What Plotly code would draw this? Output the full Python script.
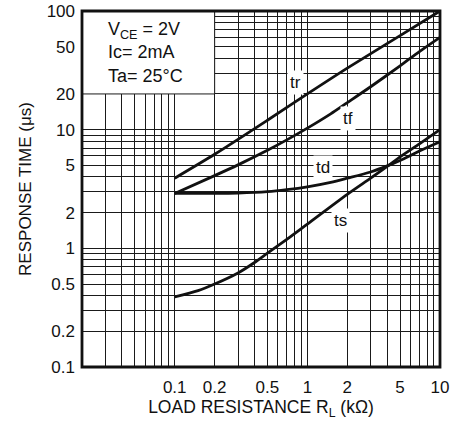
import numpy as np
import plotly.graph_objects as go

# ---- data ----
rl_tr = [0.1, 0.2, 0.5, 1, 2, 5, 10]
tr = [3.9, 6.2, 12, 20, 33, 62, 100]

rl_tf = [0.1, 0.2, 0.3, 0.5, 0.7, 1, 1.5, 2, 3, 5, 7, 10]
tf = [2.9, 4.1, 5.05, 6.7, 8.2, 10.3, 13.6, 16.9, 23, 34.5, 45.5, 60]

rl_td = [0.1, 0.2, 0.3, 0.5, 0.7, 1, 1.5, 2, 3, 4, 5, 7, 10]
td = [2.9, 2.9, 2.92, 3.0, 3.12, 3.3, 3.6, 3.9, 4.4, 4.95, 5.5, 6.6, 7.9]

rl_ts = [0.1, 0.15, 0.2, 0.3, 0.4, 0.5, 0.7, 1, 2, 3, 4, 5, 7, 10]
ts = [0.39, 0.44, 0.5, 0.62, 0.76, 0.91, 1.19, 1.6, 2.85, 3.9, 4.9, 5.9, 7.6, 10]

series_names = ["tr", "tf", "td", "ts"]
label_x = [0.81, 2.03, 1.32, 1.77]
label_y = [25.2, 12.4, 4.76, 1.73]

x_grid = [0.03, 0.04, 0.05, 0.06, 0.07, 0.08, 0.09,
          0.1, 0.2, 0.3, 0.4, 0.5, 0.6, 0.7, 0.8, 0.9,
          1, 2, 3, 4, 5, 6, 7, 8, 9, 10]
x_labels = {0.1: "0.1", 0.2: "0.2", 0.5: "0.5", 1: "1", 2: "2", 5: "5", 10: "10"}

y_grid = [0.1, 0.2, 0.3, 0.4, 0.5, 0.6, 0.7, 0.8, 0.9,
          1, 2, 3, 4, 5, 6, 7, 8, 9,
          10, 20, 30, 40, 50, 60, 70, 80, 90, 100]
y_labels = {0.1: "0.1", 0.2: "0.2", 0.5: "0.5", 1: "1", 2: "2", 5: "5",
            10: "10", 20: "20", 50: "50", 100: "100"}

conditions = "V<sub>CE</sub> = 2V<br>Ic= 2mA<br>Ta= 25°C"

FONT = "Liberation Sans, Arial, sans-serif"
INK = "#111"
GRID = "#1a1a1a"

fig = go.Figure()
for xs, ys, nm in [(rl_tr, tr, "tr"), (rl_tf, tf, "tf"), (rl_td, td, "td"), (rl_ts, ts, "ts")]:
    fig.add_trace(go.Scatter(x=xs, y=ys, mode="lines", name=nm,
                             line=dict(color=INK, width=2.8, shape="spline", smoothing=0.8),
                             showlegend=False, hoverinfo="skip"))

for nm, lx, ly in zip(series_names, label_x, label_y):
    fig.add_annotation(x=np.log10(lx), y=np.log10(ly), xref="x", yref="y",
                       text=nm, showarrow=False, bgcolor="white", borderpad=2,
                       font=dict(family=FONT, size=17, color=INK))

# white panel for the conditions
px_box = 1 / 2.699
py_box = 2.301 / 3
fig.add_shape(type="rect", xref="paper", yref="paper",
              x0=0, x1=px_box, y0=py_box, y1=1,
              fillcolor="white", line=dict(width=0), layer="above")
fig.add_shape(type="line", xref="paper", yref="paper", x0=px_box, x1=px_box, y0=py_box, y1=1,
              line=dict(color=GRID, width=1), layer="above")
fig.add_shape(type="line", xref="paper", yref="paper", x0=0, x1=px_box, y0=py_box, y1=py_box,
              line=dict(color=GRID, width=1), layer="above")
# frame
fig.add_shape(type="rect", xref="paper", yref="paper", x0=0, x1=1, y0=0, y1=1,
              line=dict(color=INK, width=2.8), layer="above")

fig.add_annotation(x=0.068, y=0.982, xref="paper", yref="paper", xanchor="left", yanchor="top",
                   align="left", text=conditions, showarrow=False,
                   font=dict(family=FONT, size=18, color=INK))

fig.update_xaxes(type="log", range=[np.log10(0.02), 1],
                 tickvals=x_grid, ticktext=[x_labels.get(v, "") for v in x_grid],
                 showgrid=True, gridcolor=GRID, gridwidth=1,
                 ticks="", showline=False, zeroline=False,
                 tickfont=dict(family=FONT, size=17, color=INK),
                 ticklabelstandoff=8, ticklabeloverflow="allow",
                 title=dict(text="LOAD RESISTANCE R<sub>L</sub> (kΩ)", standoff=2,
                            font=dict(family=FONT, size=17.5, color=INK)))
fig.update_yaxes(type="log", range=[-1, 2],
                 tickvals=y_grid, ticktext=[y_labels.get(v, "") for v in y_grid],
                 showgrid=True, gridcolor=GRID, gridwidth=1,
                 ticks="", showline=False, zeroline=False,
                 tickfont=dict(family=FONT, size=17, color=INK),
                 ticklabelstandoff=6, ticklabeloverflow="allow",
                 title=dict(text="RESPONSE TIME (μs)", standoff=10,
                            font=dict(family=FONT, size=17, color=INK)))

fig.update_layout(width=455, height=434, margin=dict(l=82, r=15, t=11, b=67),
                  paper_bgcolor="white", plot_bgcolor="white")
fig.update_xaxes(automargin=False)
fig.update_yaxes(automargin=False)

fig.write_html("out.html", config={"displayModeBar": False, "staticPlot": True},
               post_script="document.body.style.margin='0';document.body.style.overflow='hidden';")
